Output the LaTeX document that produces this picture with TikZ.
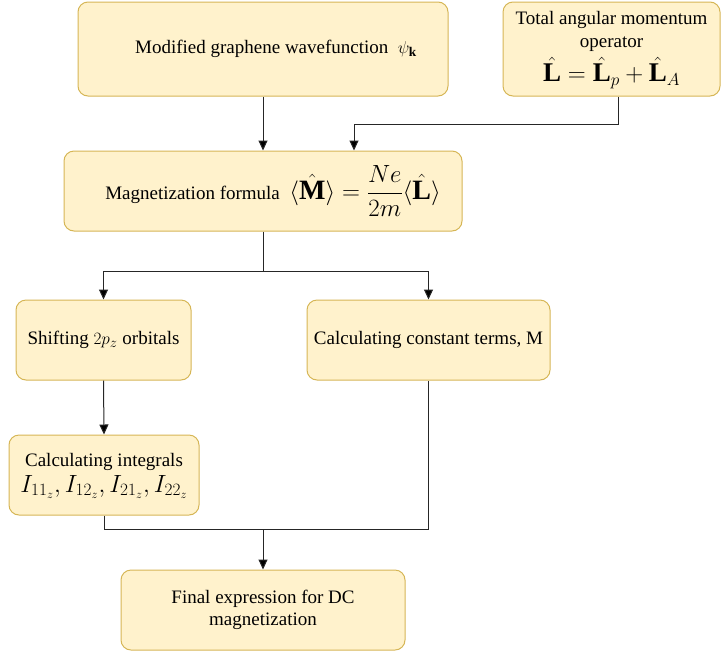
\documentclass[tikz,border=0pt]{standalone}
\usepackage{fontspec}
\setmainfont{Liberation Serif}
\usepackage{amsmath}
\usetikzlibrary{arrows.meta}
\definecolor{boxfill}{HTML}{FFF2CC}
\definecolor{boxdraw}{HTML}{D6B656}
\begin{document}
\begin{tikzpicture}[x=1pt,y=-1pt,
  box/.style={draw=boxdraw,fill=boxfill,line width=1pt,rounded corners=10pt,align=center,font=\fontsize{19}{22}\selectfont,inner sep=0pt},
  conn/.style={line width=1pt,draw=black!85},
  arr/.style={conn,-{Triangle[length=10pt,width=9pt,fill=black]}}]
\useasboundingbox (0,0) rectangle (722,654);
\node[box,minimum width=370pt,minimum height=94pt] (n1) at (263,49) {\hspace*{26pt}Modified graphene wavefunction\ \ {\fontsize{19}{20}\selectfont$\psi_{\mathbf{k}}$}};
\node[box,minimum width=217pt,minimum height=94pt] (n2) at (611.5,49) {\begin{tabular}{@{}c@{}}Total angular momentum\\[1pt] operator\\[3pt] {\fontsize{27}{28}\selectfont$\hat{\mathbf{L}}=\hat{\mathbf{L}}_p+\hat{\mathbf{L}}_A$}\end{tabular}};
\node[box,minimum width=398pt,minimum height=80pt] (n3) at (263,191) {\hspace*{20pt}Magnetization formula\ \ {\fontsize{28}{30}\selectfont$\displaystyle\langle\hat{\mathbf{M}}\rangle=\frac{Ne}{2m}\langle\hat{\mathbf{L}}\rangle$}};
\node[box,minimum width=175pt,minimum height=80pt] (n4) at (103.5,340) {Shifting $2p_z$ orbitals};
\node[box,minimum width=243pt,minimum height=80pt] (n5) at (428.5,340) {Calculating constant terms, M};
\node[box,minimum width=190pt,minimum height=80pt] (n6) at (104,475) {\begin{tabular}{@{}c@{}}Calculating integrals\\[2pt] {\fontsize{23}{25}\selectfont$I_{11_z},I_{12_z},I_{21_z},I_{22_z}$}\end{tabular}};
\node[box,minimum width=284pt,minimum height=80pt] (n7) at (263,610) {Final expression for DC\\ magnetization};
\draw[arr] (n1.south) -- (n3.north);
\draw[arr] ([xshift=6.5pt]n2.south) -- ++(0,28) -| ([xshift=91pt]n3.north);
\draw[conn] (n3.south) -- ++(0,40) coordinate (j1);
\draw[arr] (j1) -| (n4.north);
\draw[arr] (j1) -| (n5.north);
\draw[arr] (n4.south) -- (n6.north);
\draw[conn] (n6.south) -- ++(0,14) coordinate (j2) -| (n5.south);
\draw[arr] (n7.north |- j2) -- (n7.north);
\end{tikzpicture}
\end{document}
